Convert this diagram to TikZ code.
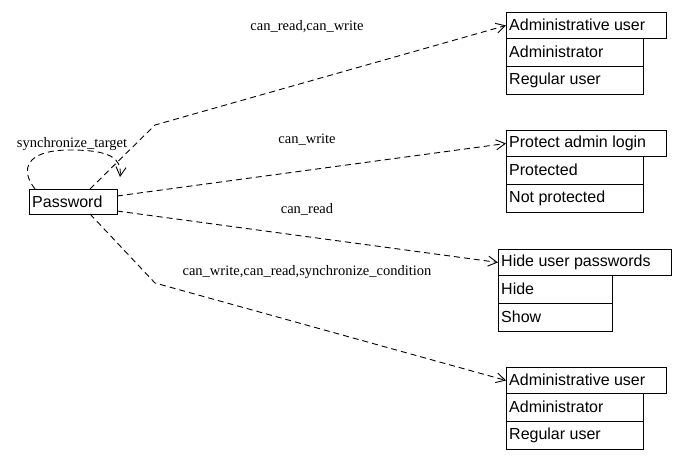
\documentclass[tikz,border=0pt]{standalone}
\usepackage{fontspec}
\newfontfamily\sans{Liberation Sans}
\newfontfamily\serif{Liberation Serif}
\usetikzlibrary{arrows.meta}
\begin{document}
\begin{tikzpicture}[x=1pt,y=-1pt,
  box/.style={draw,line width=0.9pt,inner sep=0pt,anchor=north west},
  txt/.style={anchor=west,inner sep=1pt,font=\sans\fontsize{16}{18}\selectfont},
  edge/.style={draw,line width=0.9pt,dash pattern=on 6pt off 4pt,-{Straight Barb[length=9pt,width=10pt]}},
  lab/.style={font=\serif\fontsize{14.5}{16}\selectfont}]
\useasboundingbox (0,0) rectangle (691,461);
\newcommand{\bx}[6]{\node[box,minimum width=#4-#2,minimum height=#5-#3] (#1) at (#2,#3) {};
  \node[txt] at (#2+2,{(#3+#5)/2}) {#6};}
\bx{pw}{29}{189}{117}{214}{Password}
\bx{a1}{506}{12}{666}{38}{Administrative user}
\bx{a1a}{506}{38}{643}{66}{Administrator}
\bx{a1b}{506}{66}{643}{94}{Regular user}
\bx{p}{506}{130}{666}{156}{Protect admin login}
\bx{pa}{506}{156}{643}{184}{Protected}
\bx{pb}{506}{184}{643}{212}{Not protected}
\bx{h}{498}{249}{671}{275}{Hide user passwords}
\bx{ha}{498}{275}{612}{303}{Hide}
\bx{hb}{498}{303}{612}{331}{Show}
\bx{a2}{506}{367}{666}{393}{Administrative user}
\bx{a2a}{506}{393}{643}{421}{Administrator}
\bx{a2b}{506}{421}{643}{449}{Regular user}
\coordinate (k1) at (155,125);
\coordinate (k4) at (155,283);
\draw[edge] (90,189) -- (k1) -- (a1.west);
\draw[edge] (117,196) -- (p.west);
\draw[edge] (117,211) -- (h.west);
\draw[edge] (90,214) -- (k4) -- (a2.west);
\draw[edge] (35,189) .. controls (20,170) and (25,150) .. (70,150) .. controls (110,150) and (122,158) .. (120,177);
\node[lab] at (307,27) {can\_read,can\_write};
\node[lab] at (307,140) {can\_write};
\node[lab] at (307,209) {can\_read};
\node[lab] at (307,272) {can\_write,can\_read,synchronize\_condition};
\node[lab] at (72,144) {synchronize\_target};
\end{tikzpicture}
\end{document}
